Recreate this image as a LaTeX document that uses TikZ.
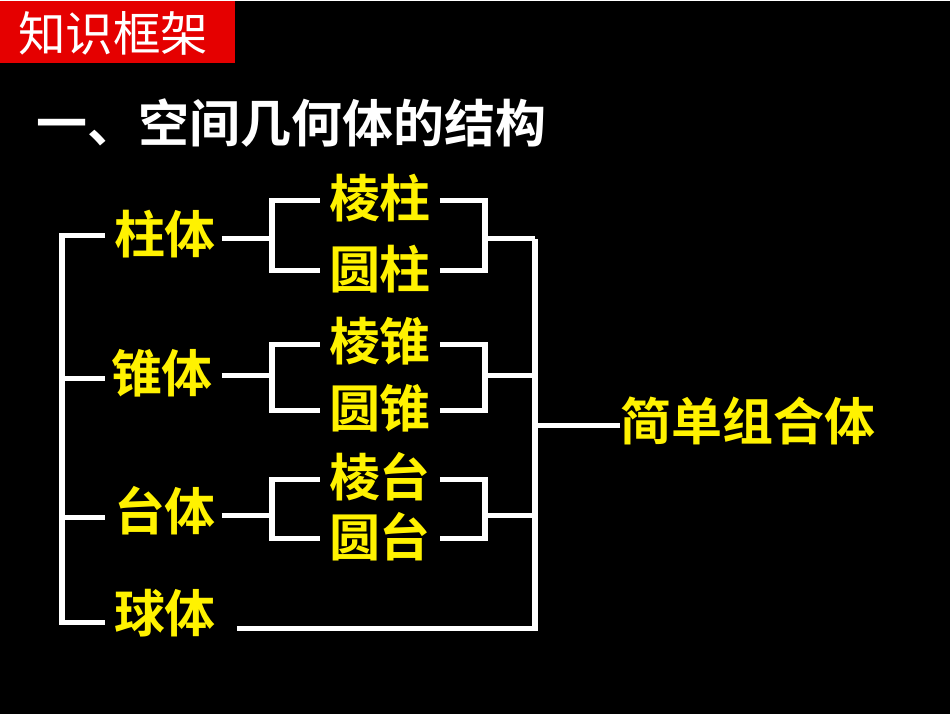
\documentclass[tikz,border=0pt]{standalone}
\usepackage{fontspec}
\newfontfamily\cjk{Noto Sans CJK SC}[BoldFont={Noto Sans CJK SC Bold}]
\begin{document}
\begin{tikzpicture}[x=0.01cm,y=-0.01cm,
    lbl/.style={text=yellow,font=\cjk\bfseries\fontsize{14.5pt}{16pt}\selectfont,inner sep=0pt},
    ln/.style={white,line width=1.6pt}]
  \fill[black] (0,0) rectangle (950,713);
  \fill[red!90!black] (0,0) rectangle (235,62);
  \node[text=white,font=\cjk\fontsize{13.5pt}{15pt}\selectfont,anchor=west] (kuang) at (6,33) {知识框架};
  \node[text=white,font=\cjk\bfseries\fontsize{14.5pt}{16pt}\selectfont,anchor=west] (title) at (24,122) {一、空间几何体的结构};
  % left column
  \node[lbl] (zhu) at (165,233) {柱体};
  \node[lbl] (zhui) at (162,373) {锥体};
  \node[lbl] (tai) at (165,510) {台体};
  \node[lbl] (qiu) at (165,613) {球体};
  \draw[ln] (105,235) -- (62,235) -- (62,622) -- (105,622)
        (62,378) -- (105,378) (62,517) -- (105,517);
  % middle column
  \foreach \n/\t/\a/\b/\ya/\yb/\ym in {zz/柱/棱/圆/197/268/238, zu/锥/棱/圆/341/408/375, tt/台/棱/圆/476/536/515}
  {
    \node[lbl] (\n a) at (380,\ya) {\a\t};
    \node[lbl] (\n b) at (380,\yb) {\b\t};
    \draw[ln] (222,\ym) -- (272,\ym) (320,\ya+3) -- (272,\ya+3) -- (272,\yb+2) -- (320,\yb+2);
    \draw[ln] (440,\ya+3) -- (485,\ya+3) -- (485,\yb+2) -- (440,\yb+2) (485,\ym) -- (535,\ym);
  }
  % right
  \node[lbl,anchor=west] (jian) at (620,420) {简单组合体};
  \draw[ln] (237,628) -- (535,628) -- (535,238);
  \coordinate (mid) at (535,425);
  \draw[ln] (mid) -- (mid -| jian.west);
\end{tikzpicture}
\end{document}
